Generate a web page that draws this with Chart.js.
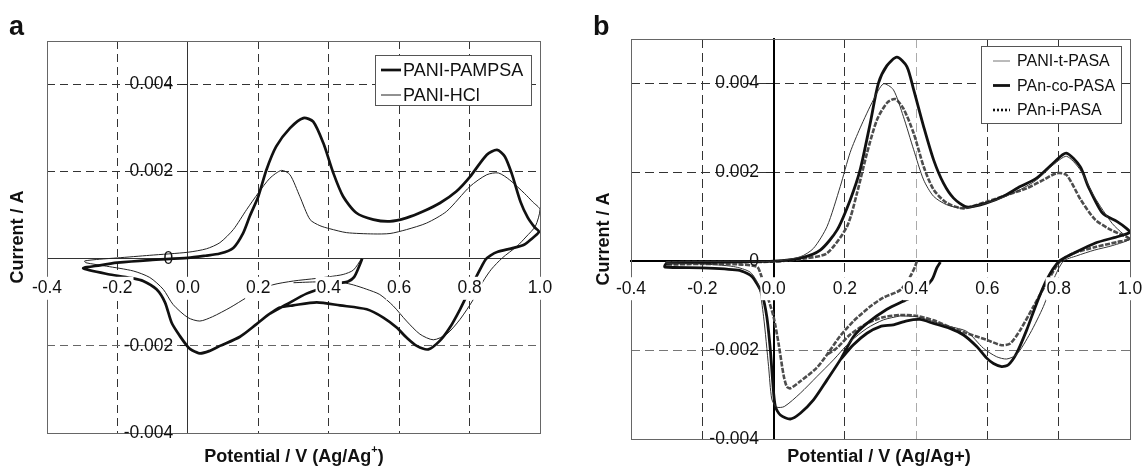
<!DOCTYPE html>
<html>
<head>
<meta charset="utf-8">
<script src="https://cdn.jsdelivr.net/npm/chart.js@4.4.1/dist/chart.umd.min.js"></script>
<style>
  html, body { margin: 0; padding: 0; background: #fff; }
  .panel { position: absolute; top: 0; width: 571px; height: 467px; }
  #panelA { left: 0; }
  #panelB { left: 571px; }
</style>
</head>
<body>
<div class="panel" id="panelA"><canvas id="chartA" width="571" height="467"></canvas></div>
<div class="panel" id="panelB"><canvas id="chartB" width="571" height="467"></canvas></div>
<script>
// [potential V, current mA] in scan order
const pampsaCurve = [
  [0.495, 0.00], [0.485, -0.20], [0.472, -0.42], [0.455, -0.52], [0.430, -0.56], [0.394, -0.64],
  [0.337, -0.80], [0.280, -1.05], [0.233, -1.26], [0.195, -1.50], [0.148, -1.79], [0.091, -2.00],
  [0.060, -2.12], [0.034, -2.17], [0.012, -2.10], [0.000, -2.02], [-0.023, -1.77], [-0.046, -1.47],
  [-0.065, -1.00], [-0.089, -0.70], [-0.127, -0.51], [-0.155, -0.45], [-0.222, -0.36], [-0.297, -0.22],
  [-0.250, -0.15], [-0.200, -0.09], [-0.108, -0.03], [0.000, 0.02], [0.050, 0.07], [0.091, 0.12],
  [0.129, 0.25], [0.157, 0.59], [0.176, 0.98], [0.200, 1.43], [0.223, 2.04], [0.251, 2.58],
  [0.290, 3.00], [0.328, 3.23], [0.356, 3.15], [0.385, 2.65], [0.413, 1.97], [0.441, 1.43],
  [0.479, 1.05], [0.527, 0.90], [0.574, 0.86], [0.621, 0.94], [0.669, 1.09], [0.716, 1.28],
  [0.763, 1.55], [0.801, 1.88], [0.849, 2.39], [0.878, 2.50], [0.900, 2.35], [0.920, 1.95],
  [0.945, 1.30], [0.965, 0.95], [0.985, 0.72], [0.997, 0.62], [0.975, 0.45], [0.956, 0.33],
  [0.920, 0.24], [0.880, 0.16], [0.860, 0.08], [0.845, -0.02], [0.820, -0.40], [0.796, -0.78],
  [0.773, -1.16], [0.744, -1.58], [0.716, -1.88], [0.683, -2.08], [0.650, -2.00], [0.621, -1.81],
  [0.593, -1.58], [0.555, -1.35], [0.508, -1.16], [0.432, -1.07], [0.366, -1.00], [0.299, -1.07],
  [0.261, -1.12], [0.233, -1.26]
];
const hclCurve = [
  [0.493, 0.00], [0.470, -0.26], [0.441, -0.36], [0.403, -0.41], [0.366, -0.45], [0.300, -0.51],
  [0.240, -0.60], [0.200, -0.75], [0.167, -0.89], [0.120, -1.12], [0.070, -1.33], [0.034, -1.43],
  [0.000, -1.35], [-0.042, -1.05], [-0.070, -0.70], [-0.108, -0.43], [-0.155, -0.28], [-0.231, -0.17],
  [-0.290, -0.09], [-0.293, -0.05], [-0.250, -0.01], [-0.200, 0.02], [-0.108, 0.08], [0.000, 0.15],
  [0.053, 0.23], [0.091, 0.37], [0.129, 0.67], [0.167, 1.13], [0.200, 1.51], [0.233, 1.85],
  [0.266, 2.03], [0.290, 1.93], [0.318, 1.43], [0.347, 0.90], [0.375, 0.76], [0.403, 0.69],
  [0.451, 0.60], [0.527, 0.57], [0.574, 0.58], [0.621, 0.67], [0.678, 0.82], [0.735, 1.09],
  [0.801, 1.66], [0.849, 1.93], [0.882, 1.97], [0.914, 1.81], [0.956, 1.50], [0.980, 1.30],
  [1.000, 1.13], [0.987, 0.75], [0.960, 0.50], [0.935, 0.29], [0.893, 0.02], [0.862, -0.24],
  [0.839, -0.51], [0.811, -0.93], [0.773, -1.39], [0.735, -1.73], [0.697, -1.86], [0.659, -1.73],
  [0.621, -1.43], [0.583, -1.08], [0.545, -0.82], [0.508, -0.70], [0.470, -0.60], [0.441, -0.55],
  [0.370, -0.53], [0.300, -0.55]
];
const tPasaCurve = [
  [0.355, -1.23], [0.308, -1.32], [0.262, -1.51], [0.215, -1.81], [0.168, -2.22], [0.121, -2.60],
  [0.075, -2.97], [0.030, -3.27], [0.008, -3.28], [-0.005, -3.10], [-0.014, -2.37], [-0.028, -1.25],
  [-0.042, -0.55], [-0.065, -0.25], [-0.112, -0.12], [-0.206, -0.06], [-0.300, -0.05], [-0.300, -0.02],
  [-0.100, 0.00], [0.000, 0.00], [0.075, 0.10], [0.112, 0.29], [0.150, 0.78], [0.187, 1.68],
  [0.215, 2.45], [0.243, 3.00], [0.280, 3.63], [0.308, 3.99], [0.336, 3.86], [0.364, 3.26],
  [0.393, 2.51], [0.421, 1.83], [0.449, 1.46], [0.486, 1.27], [0.533, 1.19], [0.598, 1.31],
  [0.645, 1.44], [0.692, 1.61], [0.738, 1.83], [0.785, 2.17], [0.822, 2.36], [0.860, 2.06],
  [0.900, 1.45], [0.950, 0.85], [0.980, 0.62], [1.000, 0.50], [0.950, 0.35], [0.900, 0.25],
  [0.850, 0.12], [0.813, 0.00], [0.785, -0.42], [0.757, -1.02], [0.720, -1.62], [0.682, -2.10],
  [0.654, -2.20], [0.626, -2.15], [0.589, -1.96], [0.542, -1.58], [0.495, -1.47], [0.449, -1.36],
  [0.402, -1.25], [0.355, -1.23]
];
const coPasaCurve = [
  [0.468, -0.02], [0.458, -0.15], [0.444, -0.42], [0.410, -0.70], [0.374, -0.86], [0.318, -1.08],
  [0.262, -1.40], [0.224, -1.70], [0.187, -2.22], [0.150, -2.67], [0.112, -3.12], [0.075, -3.42],
  [0.047, -3.55], [0.019, -3.46], [0.005, -3.27], [-0.002, -2.75], [-0.009, -2.00], [-0.019, -1.25],
  [-0.033, -0.72], [-0.047, -0.50], [-0.060, -0.35], [-0.075, -0.27], [-0.100, -0.20], [-0.200, -0.15],
  [-0.305, -0.13], [-0.300, -0.05], [-0.200, -0.03], [-0.100, -0.01], [0.000, 0.00], [0.075, 0.07],
  [0.131, 0.25], [0.178, 0.70], [0.215, 1.38], [0.243, 2.06], [0.271, 3.10], [0.294, 4.00],
  [0.318, 4.40], [0.346, 4.59], [0.374, 4.38], [0.393, 3.86], [0.421, 3.03], [0.449, 2.28],
  [0.477, 1.75], [0.505, 1.42], [0.542, 1.22], [0.598, 1.31], [0.645, 1.46], [0.692, 1.68],
  [0.738, 1.87], [0.785, 2.21], [0.821, 2.43], [0.860, 2.13], [0.883, 1.68], [0.923, 1.08],
  [0.964, 0.89], [0.990, 0.74], [1.000, 0.65], [0.964, 0.55], [0.903, 0.41], [0.842, 0.18],
  [0.801, 0.00], [0.766, -0.42], [0.738, -0.95], [0.710, -1.55], [0.682, -2.07], [0.659, -2.33],
  [0.640, -2.37], [0.617, -2.30], [0.598, -2.18], [0.570, -1.92], [0.533, -1.66], [0.495, -1.51],
  [0.449, -1.40], [0.411, -1.31], [0.374, -1.34], [0.336, -1.43], [0.299, -1.47], [0.262, -1.62],
  [0.224, -1.88], [0.187, -2.22]
];
const iPasaCurve = [
  [0.402, 0.00], [0.397, -0.12], [0.383, -0.35], [0.355, -0.65], [0.308, -0.82], [0.271, -1.02],
  [0.224, -1.35], [0.187, -1.68], [0.150, -2.10], [0.121, -2.40], [0.075, -2.70], [0.047, -2.86],
  [0.037, -2.82], [0.028, -2.56], [0.014, -1.85], [0.000, -1.25], [-0.014, -0.87], [-0.037, -0.27],
  [-0.047, -0.12], [-0.100, -0.07], [-0.200, -0.06], [-0.300, -0.07], [-0.300, -0.03], [-0.200, -0.02],
  [0.000, -0.01], [0.093, 0.07], [0.150, 0.18], [0.206, 0.78], [0.234, 1.53], [0.262, 2.43],
  [0.290, 3.18], [0.318, 3.56], [0.341, 3.65], [0.364, 3.44], [0.393, 2.88], [0.421, 2.13],
  [0.449, 1.61], [0.486, 1.31], [0.533, 1.19], [0.598, 1.34], [0.654, 1.49], [0.710, 1.64],
  [0.757, 1.83], [0.794, 1.98], [0.822, 1.94], [0.862, 1.38], [0.903, 0.93], [0.948, 0.70],
  [0.990, 0.55], [1.000, 0.50], [0.964, 0.43], [0.903, 0.32], [0.842, 0.18], [0.804, 0.00],
  [0.776, -0.35], [0.729, -1.02], [0.692, -1.55], [0.664, -1.85], [0.640, -1.89], [0.598, -1.77],
  [0.542, -1.62], [0.495, -1.48], [0.449, -1.33], [0.402, -1.23], [0.355, -1.21], [0.308, -1.26],
  [0.262, -1.40], [0.215, -1.65], [0.178, -1.95], [0.150, -2.10]
];
const potentialTicks = [-0.4, -0.2, 0.0, 0.2, 0.4, 0.6, 0.8, 1.0];
const currentTicks = [-0.004, -0.002, 0, 0.002, 0.004];

const FONT = "'Liberation Sans', Arial, Helvetica, sans-serif";
Chart.defaults.font.family = FONT;

function toPoints(curve) {
    return curve.map(p => ({ x: p[0], y: p[1] / 1000 }));
}

function near(a, b) { return Math.abs(a - b) < 1e-9; }

// draws frame, panel letter, axis titles and the boxed legend
const decor = {
    id: 'decor',
    beforeDatasetsDraw(chart, args, o) {
        const { ctx, chartArea: a } = chart;
        ctx.save();
        ctx.strokeStyle = o.frameColor;
        ctx.lineWidth = 1;
        ctx.strokeRect(Math.round(a.left) + 0.5, Math.round(a.top) + 0.5,
            Math.round(a.right - a.left), Math.round(a.bottom - a.top));
        ctx.restore();
    },
    afterDraw(chart, args, o) {
        const { ctx, chartArea: a } = chart;
        ctx.save();
        ctx.fillStyle = '#111';

        ctx.font = 'bold 27px ' + FONT;
        ctx.textAlign = 'left';
        ctx.textBaseline = 'alphabetic';
        ctx.fillText(o.letter, o.letterX, 35);

        ctx.font = 'bold 18px ' + FONT;
        ctx.textAlign = 'center';
        ctx.textBaseline = 'middle';
        ctx.save();
        ctx.translate(o.yTitleX, (a.top + a.bottom) / 2);
        ctx.rotate(-Math.PI / 2);
        ctx.fillText('Current / A', 0, 0);
        ctx.restore();

        // x title, optional superscript
        ctx.textAlign = 'left';
        ctx.font = 'bold 18px ' + FONT;
        const w1 = ctx.measureText(o.xTitle[0]).width;
        const w3 = ctx.measureText(o.xTitle[2]).width;
        ctx.font = 'bold 11px ' + FONT;
        const w2 = ctx.measureText(o.xTitle[1]).width;
        let x0 = o.xTitleX - (w1 + w2 + w3) / 2;
        ctx.font = 'bold 18px ' + FONT;
        ctx.fillText(o.xTitle[0], x0, 457);
        ctx.font = 'bold 11px ' + FONT;
        ctx.fillText(o.xTitle[1], x0 + w1, 450);
        ctx.font = 'bold 18px ' + FONT;
        ctx.fillText(o.xTitle[2], x0 + w1 + w2, 457);

        // legend
        const L = o.legend;
        ctx.fillStyle = '#fff';
        ctx.fillRect(L.x, L.y, L.w, L.h);
        ctx.strokeStyle = '#555';
        ctx.lineWidth = 1;
        ctx.strokeRect(L.x + 0.5, L.y + 0.5, L.w, L.h);
        chart.data.datasets.forEach((ds, i) => {
            const y = L.y + L.first + i * L.rowH;
            ctx.save();
            ctx.strokeStyle = ds.legendColor || ds.borderColor;
            ctx.lineWidth = ds.borderWidth;
            ctx.setLineDash(ds.legendDash || []);
            ctx.beginPath();
            ctx.moveTo(L.x + L.s0, y);
            ctx.lineTo(L.x + L.s1, y);
            ctx.stroke();
            ctx.restore();
            ctx.fillStyle = '#111';
            ctx.font = L.size + 'px ' + FONT;
            ctx.textBaseline = 'middle';
            ctx.fillText(ds.label, L.x + L.tx, y + 1);
        });
        ctx.restore();
    }
};

function makeScales(cfg) {
    return {
        x: {
            type: 'linear',
            position: { y: 0 },
            min: -0.4,
            max: 1.0,
            afterBuildTicks: s => { s.ticks = potentialTicks.map(v => ({ value: v })); },
            afterFit: s => { s.height = 0; s.paddingLeft = 0; s.paddingRight = 0; },
            grid: {
                color: c => cfg.xGrid(c.tick.value),
                lineWidth: 1,
                drawTicks: false
            },
            border: { color: cfg.axisColor, width: cfg.axisWidth, dash: cfg.dash },
            ticks: {
                z: 1,
                padding: cfg.xPad,
                color: '#111',
                font: { size: 17.5 },
                autoSkip: false,
                maxRotation: 0,
                showLabelBackdrop: true,
                backdropColor: '#fff',
                backdropPadding: 1,
                callback: v => Number(v).toFixed(1)
            }
        },
        y: {
            type: 'linear',
            position: { x: 0 },
            min: -0.004,
            max: 0.005,
            afterBuildTicks: s => { s.ticks = currentTicks.map(v => ({ value: v })); },
            afterFit: s => { s.width = 0; s.paddingTop = 0; s.paddingBottom = 0; },
            grid: {
                color: c => cfg.yGrid(c.tick.value),
                lineWidth: 1,
                drawTicks: true,
                tickLength: 7,
                tickColor: '#222'
            },
            border: { color: cfg.axisColor, width: cfg.axisWidth, dash: cfg.dash },
            ticks: {
                z: 1,
                color: '#111',
                font: { size: 17.5 },
                autoSkip: false,
                // labels sit flush on a value-positioned axis, trailing spaces keep the gap
                callback: v => (near(v, 0) ? '0' : Number(v).toFixed(3)) + '   '
            }
        }
    };
}

const baseOptions = {
    responsive: false,
    animation: false,
    elements: { point: { radius: 0 }, line: { tension: 0.25 } },
    plugins: { legend: { display: false }, tooltip: { enabled: false } }
};

// panel a
new Chart(document.getElementById('chartA'), {
    type: 'scatter',
    data: {
        datasets: [
            { label: 'PANI-PAMPSA', data: toPoints(pampsaCurve), showLine: true, borderColor: '#111', borderWidth: 2.7 },
            { label: 'PANI-HCl', data: toPoints(hclCurve), showLine: true, borderColor: '#222', borderWidth: 1 }
        ]
    },
    options: Object.assign({}, baseOptions, {
        layout: { padding: { left: 47, right: 31, top: 41, bottom: 34 } },
        scales: makeScales({
            axisColor: '#333', axisWidth: 1, dash: [8, 5], xPad: 19,
            xGrid: v => (near(v, 0) || near(v, -0.4) || near(v, 1.0)) ? 'rgba(0,0,0,0)' : '#333',
            yGrid: v => (near(v, 0) || near(v, -0.004)) ? 'rgba(0,0,0,0)' : (v < 0 ? '#666' : '#333')
        }),
        plugins: Object.assign({}, baseOptions.plugins, {
            decor: {
                frameColor: '#666', letter: 'a', letterX: 9, yTitleX: 18, xTitleX: 294,
                xTitle: ['Potential / V (Ag/Ag', '+', ')'],
                legend: { x: 375, y: 55, w: 156, h: 50, first: 15, rowH: 25, s0: 6, s1: 26, tx: 28, size: 18 }
            }
        })
    }),
    plugins: [decor]
});

// panel b
new Chart(document.getElementById('chartB'), {
    type: 'scatter',
    data: {
        datasets: [
            { label: 'PANI-t-PASA', data: toPoints(tPasaCurve), showLine: true, borderColor: '#333', borderWidth: 1, legendColor: '#777' },
            { label: 'PAn-co-PASA', data: toPoints(coPasaCurve), showLine: true, borderColor: '#111', borderWidth: 2.8 },
            { label: 'PAn-i-PASA', data: toPoints(iPasaCurve), showLine: true, borderColor: '#4d4d4d', borderWidth: 2.6, borderDash: [5, 1.5], legendColor: '#111', legendDash: [2, 2] }
        ]
    },
    options: Object.assign({}, baseOptions, {
        layout: { padding: { left: 60, right: 12, top: 39, bottom: 28 } },
        scales: makeScales({
            axisColor: '#000', axisWidth: 2, dash: [9, 5], xPad: 17,
            xGrid: v => (near(v, 0) || near(v, -0.4) || near(v, 1.0)) ? 'rgba(0,0,0,0)' : (near(v, 0.4) ? '#aaa' : '#333'),
            yGrid: v => (near(v, 0) || near(v, -0.004)) ? 'rgba(0,0,0,0)' : (v < 0 ? '#777' : '#333')
        }),
        plugins: Object.assign({}, baseOptions.plugins, {
            decor: {
                frameColor: '#666', letter: 'b', letterX: 22, yTitleX: 33, xTitleX: 308,
                xTitle: ['Potential / V (Ag/Ag+)', '', ''],
                legend: { x: 410, y: 46, w: 140, h: 77, first: 15, rowH: 24.5, s0: 12, s1: 29, tx: 36, size: 16 }
            }
        })
    }),
    plugins: [decor]
});
</script>
</body>
</html>
